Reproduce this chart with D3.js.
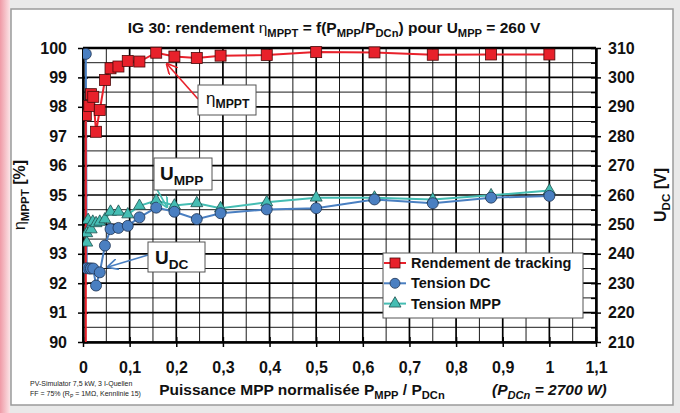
<!DOCTYPE html>
<html>
<head>
<meta charset="utf-8">
<script src="https://cdn.jsdelivr.net/npm/d3@7"></script>
<style>
  body { margin: 0; background: #fff; }
  svg { display: block; font-family: "Liberation Sans", Arial, sans-serif; }
  .axis path { stroke: #000; stroke-width: 2.5; }
  .axis line { stroke: #000; stroke-width: 1.5; }
  .axis text { font-weight: bold; font-size: 16px; fill: #111; }
</style>
</head>
<body>
<svg id="chart" width="680" height="413"></svg>
<script>
// --- data ---
const xTicks = [0, 0.1, 0.2, 0.3, 0.4, 0.5, 0.6, 0.7, 0.8, 0.9, 1, 1.1]
const effTicks = [90, 91, 92, 93, 94, 95, 96, 97, 98, 99, 100]
const voltTicks = [210, 220, 230, 240, 250, 260, 270, 280, 290, 300, 310]

// Rendement de tracking (%)
const effX = [0.007, 0.006, 0.0135, 0.017, 0.022, 0.028, 0.036, 0.047, 0.059, 0.076, 0.096, 0.121, 0.157, 0.196, 0.244, 0.295, 0.394, 0.5, 0.625, 0.75, 0.875, 1.0]
const effY = [0, 97.72, 98.03, 98.43, 98.34, 97.15, 97.89, 98.91, 99.31, 99.37, 99.56, 99.54, 99.84, 99.71, 99.66, 99.74, 99.76, 99.86, 99.85, 99.77, 99.78, 99.78]

// Tension DC (V)
const dcX = [0.006, 0.008, 0.0135, 0.017, 0.022, 0.028, 0.036, 0.047, 0.059, 0.076, 0.096, 0.121, 0.157, 0.196, 0.244, 0.295, 0.394, 0.5, 0.625, 0.75, 0.875, 1.0]
const dcY = [308, 235.1, 235, 235, 235, 229.2, 233.7, 242.8, 248.4, 248.8, 249.5, 252.4, 255.7, 254.3, 251.8, 253.8, 255.1, 255.5, 258.5, 257.2, 259.1, 259.7]

// Tension MPP (V)
const mppX = [0.008, 0.008, 0.011, 0.0175, 0.021, 0.028, 0.036, 0.047, 0.059, 0.076, 0.096, 0.121, 0.157, 0.196, 0.244, 0.295, 0.394, 0.5, 0.625, 0.75, 0.875, 1.0]
const mppY = [243.8, 247.0, 251.5, 248.3, 250.9, 250.4, 250.9, 251.7, 254.3, 254.3, 253.4, 256.3, 258.1, 256.4, 257.2, 255.5, 257.5, 259.1, 259.1, 258.5, 259.9, 261.5]

const RED = '#e8212b', BLUE = '#4a7fc1', TEAL = '#45bdb3'

const svg = d3.select('#chart')
const mLeft = 83, mRight = 596, mTop = 48, mBottom = 342

// frame
const defs = svg.append('defs')
const grad = defs.append('linearGradient').attr('id', 'pink')
grad.append('stop').attr('offset', 0).attr('stop-color', '#ef9aa6')
grad.append('stop').attr('offset', 1).attr('stop-color', '#fbe3e6')
defs.append('clipPath').attr('id', 'plotclip')
  .append('rect').attr('x', mLeft).attr('y', mTop - 8).attr('width', mRight - mLeft).attr('height', mBottom - mTop + 8)

svg.append('rect').attr('width', 680).attr('height', 413).attr('fill', '#e9e9e9')
svg.append('rect').attr('width', 10).attr('height', 413).attr('fill', 'url(#pink)')
svg.append('rect').attr('x', 11).attr('y', 9).attr('width', 662).attr('height', 396)
  .attr('fill', '#fff').attr('stroke', '#9a9a9a').attr('stroke-width', 1.5)

const x = d3.scaleLinear().domain([0, 1.1]).range([mLeft, mRight])
const y = d3.scaleLinear().domain([90, 100]).range([mBottom, mTop])
const y2 = d3.scaleLinear().domain([210, 310]).range([mBottom, mTop])

// grid
const grid = svg.append('g')
d3.range(0, 1.1001, 0.05).forEach((v, i) => {
  grid.append('line').attr('x1', x(v)).attr('x2', x(v)).attr('y1', mTop).attr('y2', mBottom)
    .attr('stroke', '#000').attr('stroke-width', i % 2 === 0 ? 1.7 : 0.9)
})
d3.range(90, 100.001, 0.5).forEach((v, i) => {
  grid.append('line').attr('x1', mLeft).attr('x2', mRight).attr('y1', y(v)).attr('y2', y(v))
    .attr('stroke', '#000').attr('stroke-width', i % 2 === 0 ? 1.7 : 0.9)
})
grid.append('line').attr('x1', mLeft).attr('x2', mRight).attr('y1', mTop).attr('y2', mTop)
  .attr('stroke', '#000').attr('stroke-width', 2.5)

// axes
const xAxis = svg.append('g').attr('class', 'axis')
  .attr('transform', 'translate(0,' + mBottom + ')')
  .call(d3.axisBottom(x).tickValues(xTicks).tickSize(5).tickPadding(15).tickSizeOuter(0)
    .tickFormat(d => d3.format('~g')(d).replace('.', ',')))
xAxis.selectAll('.tick line').attr('y1', -5)

const yAxis = svg.append('g').attr('class', 'axis')
  .attr('transform', 'translate(' + mLeft + ',0)')
  .call(d3.axisLeft(y).tickValues(effTicks).tickSize(5).tickPadding(11).tickSizeOuter(0))
yAxis.selectAll('.tick line').attr('x1', 5)

const yAxis2 = svg.append('g').attr('class', 'axis')
  .attr('transform', 'translate(' + mRight + ',0)')
  .call(d3.axisRight(y2).tickValues(voltTicks).tickSize(5).tickPadding(7).tickSizeOuter(0))
yAxis2.selectAll('.tick line').attr('x1', -5)
svg.append('g').attr('class', 'axis')
  .attr('transform', 'translate(' + mRight + ',0)')
  .call(d3.axisLeft(y2).tickValues(d3.range(215, 310, 10)).tickSize(5).tickFormat('').tickSizeOuter(0))
  .select('.domain').remove()

// series
const plot = svg.append('g').attr('clip-path', 'url(#plotclip)')

function series (xs, ys, scale, color) {
  const pts = xs.map((v, i) => [x(v), scale(ys[i])])
  plot.append('path').attr('d', d3.line()(pts))
    .attr('fill', 'none').attr('stroke', color).attr('stroke-width', 2)
  return pts
}

const mppPts = series(mppX, mppY, y2, TEAL)
const dcPts = series(dcX, dcY, y2, BLUE)
const effPts = series(effX, effY, y, RED)

const tri = d3.symbol().type(d3.symbolTriangle).size(62)
plot.selectAll('.tri').data(mppPts).enter().append('path')
  .attr('transform', d => 'translate(' + d[0] + ',' + d[1] + ')')
  .attr('d', tri).attr('fill', TEAL).attr('stroke', '#1d4f4c').attr('stroke-width', 0.8)

plot.selectAll('.dot').data(dcPts).enter().append('circle')
  .attr('cx', d => d[0]).attr('cy', d => d[1]).attr('r', 5.5)
  .attr('fill', BLUE).attr('stroke', '#1f3352').attr('stroke-width', 0.8)

plot.selectAll('.sq').data(effPts).enter().append('rect')
  .attr('x', d => d[0] - 5.5).attr('y', d => d[1] - 5.5).attr('width', 11).attr('height', 11)
  .attr('fill', RED).attr('stroke', '#4a0a0a').attr('stroke-width', 0.8)

// helpers for sub-scripted labels
function subText (g, xPos, yPos, parts, size, anchor) {
  const t = g.append('text').attr('x', xPos).attr('y', yPos)
    .attr('font-weight', 'bold').attr('font-size', size).attr('fill', '#111')
    .attr('text-anchor', anchor || 'start')
  parts.forEach(p => {
    const ts = t.append('tspan').text(p[0])
    if (p[1] === 'sub') ts.attr('font-size', size * 0.72).attr('dy', size * 0.25)
    if (p[1] === 'up') ts.attr('dy', -size * 0.25)
    if (p[2]) ts.attr('font-weight', p[2])
    if (p[3]) ts.attr('font-style', p[3])
  })
  return t
}

// title
subText(svg, 334, 33, [
  ['IG 30: rendement '], ['η', null, 'normal'], ['MPPT', 'sub'], [' = f(P', 'up'], ['MPP', 'sub'],
  ['/P', 'up'], ['DCn', 'sub'], [') pour U', 'up'], ['MPP', 'sub'], [' = 260 V', 'up']
], 15.5, 'middle')

// axis titles
subText(svg, 0, 0, [['η', null, 'normal'], ['MPPT', 'sub'], [' [%]', 'up']], 16, 'middle')
  .attr('transform', 'translate(25,' + ((mTop + mBottom) / 2) + ') rotate(-90)')
subText(svg, 0, 0, [['U'], ['DC', 'sub'], [' [V]', 'up']], 16, 'middle')
  .attr('transform', 'translate(666,' + ((mTop + mBottom) / 2) + ') rotate(-90)')

subText(svg, 302, 395, [['Puissance MPP normalisée P'], ['MPP', 'sub'], [' / P', 'up'], ['DCn', 'sub']], 15.5, 'middle')
subText(svg, 492, 395, [['(P', null, null, 'italic'], ['DCn', 'sub', null, 'italic'], [' = 2700 W)', 'up', null, 'italic']], 15.5)

// footnote
const foot = svg.append('g').attr('font-size', 7).attr('fill', '#222')
foot.append('text').attr('x', 30).attr('y', 386).text('PV-Simulator 7,5 kW, 3 I-Quellen')
const f2 = foot.append('text').attr('x', 30).attr('y', 396)
f2.append('tspan').text('FF = 75% (R')
f2.append('tspan').text('P').attr('font-size', 5).attr('dy', 1.5)
f2.append('tspan').text(' = 1MΩ, Kennlinie 15)').attr('dy', -1.5)

// annotations
function callout (bx, by, bw, bh, ax1, ay1, ax2, ay2, color, parts, size, tx, ty) {
  const mid = 'ah' + color.slice(1)
  defs.append('marker').attr('id', mid).attr('viewBox', '0 0 10 10').attr('refX', 9).attr('refY', 5)
    .attr('markerWidth', 7).attr('markerHeight', 7).attr('orient', 'auto')
    .append('path').attr('d', 'M0,0 L10,5 L0,10').attr('fill', 'none').attr('stroke', color).attr('stroke-width', 1.5)
  svg.append('line').attr('x1', ax1).attr('y1', ay1).attr('x2', ax2).attr('y2', ay2)
    .attr('stroke', color).attr('stroke-width', 1.6).attr('marker-end', 'url(#' + mid + ')')
  svg.append('rect').attr('x', bx).attr('y', by).attr('width', bw).attr('height', bh)
    .attr('fill', '#fff').attr('stroke', '#555').attr('stroke-width', 1)
  subText(svg, tx, ty, parts, size)
}
callout(198, 85, 58, 30, 198, 99, 167, 64, RED,
  [['η', null, 'normal'], ['MPPT', 'sub']], 17, 206, 104)
callout(154, 158, 58, 32, 155, 186, 167, 207, TEAL,
  [['U'], ['MPP', 'sub']], 19, 160, 180)
callout(148, 242, 57, 30, 148, 255, 108, 267, BLUE,
  [['U'], ['DC', 'sub']], 19, 155, 264)

// legend
const lg = svg.append('g')
lg.append('rect').attr('x', 383).attr('y', 253).attr('width', 200).attr('height', 65)
  .attr('fill', '#fff').attr('stroke', '#555').attr('stroke-width', 1)
const entries = [['Rendement de tracking', RED], ['Tension DC', BLUE], ['Tension MPP', TEAL]]
entries.forEach((e, i) => {
  const yy = 263 + i * 20.3
  lg.append('line').attr('x1', 384).attr('x2', 406).attr('y1', yy).attr('y2', yy)
    .attr('stroke', e[1]).attr('stroke-width', 2)
  if (i === 0) lg.append('rect').attr('x', 390).attr('y', yy - 5).attr('width', 10).attr('height', 10)
    .attr('fill', RED).attr('stroke', '#4a0a0a').attr('stroke-width', 0.8)
  if (i === 1) lg.append('circle').attr('cx', 395).attr('cy', yy).attr('r', 5)
    .attr('fill', BLUE).attr('stroke', '#1f3352').attr('stroke-width', 0.8)
  if (i === 2) lg.append('path').attr('transform', 'translate(395,' + yy + ')').attr('d', tri)
    .attr('fill', TEAL).attr('stroke', '#1d4f4c').attr('stroke-width', 0.8)
  lg.append('text').attr('x', 411).attr('y', yy + 5).text(e[0])
    .attr('font-weight', 'bold').attr('font-size', 14.5).attr('fill', '#111')
})
</script>
</body>
</html>
